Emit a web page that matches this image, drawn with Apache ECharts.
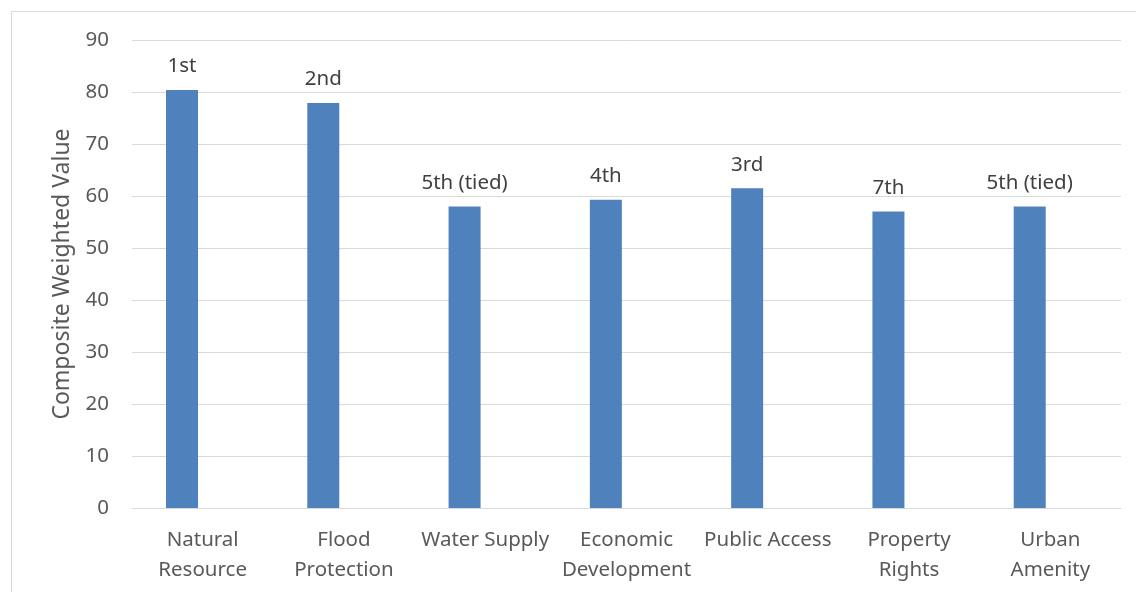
<!DOCTYPE html>
<html><head><meta charset="utf-8">
<script src="https://cdn.jsdelivr.net/npm/echarts@6/dist/echarts.min.js"></script>
<style>html,body{margin:0;padding:0;background:#fff}#c{width:1136px;height:592px}</style>
</head><body><div id="c"></div>
<script>
const categories = ['Natural\nResource','Flood\nProtection','Water Supply','Economic\nDevelopment','Public Access','Property\nRights','Urban\nAmenity'];
const values = [80.4, 77.9, 58, 59.3, 61.5, 57, 58];
const rankLabels = ['1st','2nd','5th (tied)','4th','3rd','7th','5th (tied)'];
const yTicks = {min:0, max:90, interval:10};
const emptyValues = [null,null,null,null,null,null,null];

const FONT = 'Noto Sans';
const chart = echarts.init(document.getElementById('c'));
chart.setOption({
  animation:false,
  graphic:[{type:'rect',shape:{x:11.5,y:11.5,width:1300,height:1000},style:{fill:'none',stroke:'#d9d9d9',lineWidth:1}}],
  grid:{left:132,right:15,top:40,bottom:84},
  xAxis:{type:'category',data:categories,
    axisLine:{lineStyle:{color:'#d9d9d9',width:1}},axisTick:{show:false},
    axisLabel:{color:'#595959',fontFamily:FONT,fontSize:20.5,lineHeight:30,margin:17,interval:0}},
  yAxis:{type:'value',min:yTicks.min,max:yTicks.max,interval:yTicks.interval,
    name:'Composite Weighted Value',nameLocation:'middle',nameGap:58,
    nameTextStyle:{color:'#595959',fontFamily:FONT,fontSize:23},
    axisLine:{show:false},axisTick:{show:false},
    splitLine:{lineStyle:{color:'#d9d9d9',width:1}},
    axisLabel:{color:'#595959',fontFamily:FONT,fontSize:20.5,margin:23}},
  series:[
    {type:'bar',data:values,barWidth:32,barGap:'29%',
      itemStyle:{color:'#4f81bd'},
      label:{show:true,position:'top',distance:13,color:'#404040',fontFamily:FONT,fontSize:20.5,
        formatter:p=>rankLabels[p.dataIndex]}},
    {type:'bar',data:emptyValues,barWidth:32}
  ]
});
</script></body></html>
